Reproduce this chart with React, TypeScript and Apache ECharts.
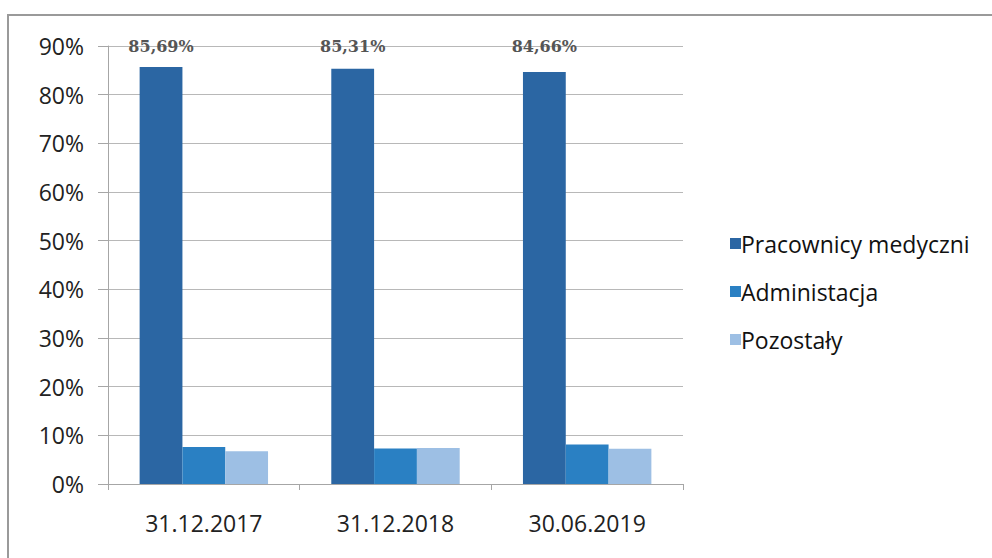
import React, { useEffect, useRef } from "react";
import * as echarts from "echarts";

const categories = ["31.12.2017", "31.12.2018", "30.06.2019"];
const seriesNames = ["Pracownicy medyczni", "Administacja", "Pozostały"];
const medical = [85.69, 85.31, 84.66];
const admin = [7.6, 7.3, 8.1];
const other = [6.71, 7.39, 7.24];
const yTicks = [0, 10, 20, 30, 40, 50, 60, 70, 80, 90];
const colors = ["#2b66a3", "#2a80c3", "#9dbfe4"];

const fmt = (v: number) => v.toFixed(2).replace(".", ",") + "%";

export default function App() {
  const ref = useRef<HTMLDivElement>(null);
  useEffect(() => {
    if (!ref.current) return;
    const chart = echarts.init(ref.current, undefined, { renderer: "svg" });
    const font = "'Open Sans', 'Noto Sans', sans-serif";
    const plotH = 558 - 46 - 74;
    const pxPerUnit = plotH / 90;
    chart.setOption({
      animation: false,
      backgroundColor: "#ffffff",
      textStyle: { fontFamily: font },
      grid: { left: 108, right: 309, top: 46, bottom: 74, containLabel: false },
      legend: {
        orient: "vertical",
        left: 725,
        top: 227,
        itemWidth: 11,
        itemHeight: 11,
        itemGap: 25,
        icon: "rect",
        textStyle: { fontSize: 23, color: "#111", fontFamily: font, padding: [0, 0, 0, -5] },
        data: seriesNames,
      },
      xAxis: {
        type: "category",
        data: categories,
        axisLine: { show: true, lineStyle: { color: "#a6a6a6", width: 1 } },
        axisTick: { show: true, length: 6, lineStyle: { color: "#a6a6a6" } },
        axisLabel: { fontSize: 23, color: "#222", margin: 27, fontFamily: font },
      },
      yAxis: {
        type: "value",
        min: 0,
        max: 90,
        interval: 10,
        axisLine: { show: true, lineStyle: { color: "#a6a6a6", width: 1 } },
        axisTick: { show: true, length: 10, inside: false, lineStyle: { color: "#a6a6a6" } },
        splitLine: { show: true, lineStyle: { color: "#b8b8b8", width: 1 } },
        axisLabel: {
          fontSize: 23,
          color: "#222",
          margin: 24,
          fontFamily: font,
          formatter: (v: number) => (yTicks.includes(v) ? v + "%" : ""),
        },
      },
      series: [
        {
          name: seriesNames[0],
          type: "bar",
          data: medical.map((v) => ({
            value: v,
            label: { distance: 12 + (90 - v) * pxPerUnit - 4.3 * pxPerUnit },
          })),
          barGap: "0%",
          barCategoryGap: "33%",
          itemStyle: { color: colors[0] },
          label: {
            show: true,
            position: "top",
            formatter: (p: any) => fmt(p.value),
            fontFamily: "'DejaVu Serif', 'Liberation Serif', serif",
            fontWeight: "bold",
            fontSize: 16,
            color: "#555555",
          },
        },
        {
          name: seriesNames[1],
          type: "bar",
          data: admin,
          barGap: "0%",
          barCategoryGap: "33%",
          itemStyle: { color: colors[1] },
        },
        {
          name: seriesNames[2],
          type: "bar",
          data: other,
          barGap: "0%",
          barCategoryGap: "33%",
          itemStyle: { color: colors[2] },
        },
      ],
      graphic: [
        {
          type: "polyline",
          shape: { points: [[8, 558], [8, 15], [992, 15]] },
          style: { stroke: "#9a9a9a", lineWidth: 2, fill: "none" },
          silent: true,
        },
      ],
    });
    return () => chart.dispose();
  }, []);
  return (
    <div
      ref={ref}
      style={{ position: "fixed", left: 0, top: 0, width: 992, height: 558 }}
    />
  );
}
